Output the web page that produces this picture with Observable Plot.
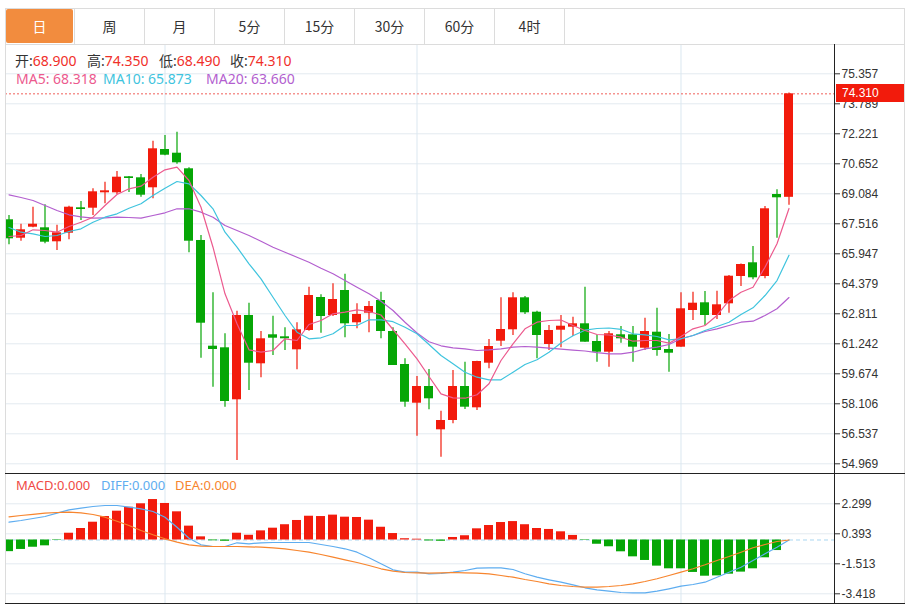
<!DOCTYPE html>
<html><head><meta charset="utf-8">
<script src="https://cdn.jsdelivr.net/npm/d3@7"></script>
<script src="https://cdn.jsdelivr.net/npm/@observablehq/plot@0.6"></script>
<style>
body{margin:0;background:#fff;}
#wrap{position:relative;width:910px;height:606px;overflow:hidden;font-family:"Noto Sans CJK SC","Noto Sans",sans-serif;}
.abs{position:absolute;}
.tab{position:absolute;top:8px;height:36px;width:70px;box-sizing:border-box;border-right:1px solid #dcdcdc;display:flex;align-items:center;justify-content:center;font-size:14px;color:#333;}
.tab.on span{position:absolute;left:1px;top:1px;right:1px;bottom:1px;background:#f28c3e;border-radius:2px;}
.tab.on b{position:relative;color:#fff;font-weight:normal;}
.hd{position:absolute;font-family:"Noto Sans","Noto Sans CJK SC",sans-serif;font-size:14px;white-space:nowrap;line-height:18px;}
svg{position:absolute;left:0;overflow:visible;}
</style></head><body><div id="wrap"></div>
<script>
// ---- data ----
const tabs = ["日","周","月","5分","15分","30分","60分","4时"];
const opens  = [67.725,66.763,67.338,67.306,66.575,67.024,68.352,68.331,69.136,69.136,69.972,69.920,69.398,71.400,71.206,70.391,66.643,61.117,61.033,58.315,62.722,60.197,61.713,61.608,60.928,61.938,63.663,62.722,64.029,62.340,62.842,63.506,61.885,60.160,58.137,59.010,56.746,57.233,59.010,57.896,60.228,61.378,61.974,63.647,62.894,61.206,61.953,62.110,62.288,61.363,60.803,61.713,61.713,61.012,61.849,60.944,61.065,62.983,63.386,62.722,63.333,64.761,65.477,64.761,69.047,68.900];
const highs  = [67.949,67.495,68.383,68.509,67.442,68.436,68.681,69.345,69.690,70.250,69.990,70.093,71.834,72.132,72.304,70.443,66.904,63.908,61.765,62.946,63.365,61.885,62.685,62.079,62.340,64.201,63.804,64.379,64.881,63.333,63.454,63.940,62.079,60.458,59.533,59.899,57.719,59.847,60.280,60.330,61.467,63.647,63.908,63.715,62.946,62.199,62.722,62.633,64.201,61.676,61.885,62.147,62.147,62.581,63.103,61.728,63.908,63.940,63.976,63.992,64.813,65.420,66.329,68.420,69.293,74.350];
const lows   = [66.418,66.606,67.306,66.470,66.120,66.679,67.688,67.949,68.561,69.047,69.152,68.906,68.822,71.070,70.631,65.999,60.489,58.973,57.928,55.142,58.801,59.465,60.631,60.892,59.883,61.901,61.796,62.669,61.556,62.027,61.817,61.504,60.108,57.928,56.412,57.792,55.314,57.060,57.808,57.756,59.935,61.101,61.676,62.774,60.458,60.892,61.033,61.624,61.326,60.280,60.019,61.274,60.280,60.892,60.594,59.758,61.065,62.460,62.199,62.513,62.842,64.238,64.588,64.640,66.763,68.490];
const closes = [66.731,67.202,67.495,66.554,67.045,68.383,68.263,69.188,69.240,69.952,69.884,69.011,71.436,71.102,70.704,66.606,62.319,60.944,58.226,62.722,60.228,61.504,61.535,61.504,61.974,63.767,62.669,63.558,62.288,62.774,63.192,61.885,60.108,58.189,59.010,58.367,57.233,59.010,57.928,60.317,61.101,61.990,63.647,62.863,61.676,61.938,62.162,62.288,61.326,60.803,61.765,61.504,61.065,61.885,60.892,60.751,63.072,63.365,62.722,63.281,64.776,65.388,64.693,68.300,68.875,74.310];
const ma5  = [66.852,66.904,67.202,67.165,67.076,67.374,67.599,67.861,68.472,69.047,69.345,69.481,69.952,70.339,70.474,69.779,68.383,66.292,63.856,62.288,60.929,60.803,60.892,61.504,61.415,62.251,62.460,62.811,62.894,63.020,62.931,62.748,61.990,61.242,60.458,59.533,58.628,58.419,58.398,58.580,59.151,60.369,61.242,62.026,62.371,62.460,62.487,62.199,61.938,61.728,61.702,61.587,61.378,61.415,61.415,61.274,61.624,62.026,62.199,62.722,63.506,63.940,64.201,65.247,66.470,68.318];
const ma10 = [67.322,67.076,66.993,66.852,66.904,67.113,67.254,67.599,67.861,68.038,68.331,68.561,68.995,69.377,69.727,69.607,68.995,68.300,67.076,66.292,65.424,64.640,63.678,62.722,61.849,61.504,61.556,61.765,62.199,62.199,62.497,62.497,62.398,62.110,61.765,61.206,60.631,60.197,59.758,59.496,59.360,59.360,59.758,60.160,60.406,60.803,61.284,61.661,61.953,62.042,62.068,62.000,61.765,61.713,61.624,61.451,61.504,61.676,61.938,62.147,62.371,62.774,63.124,63.767,64.551,65.873];
const ma20 = [69.032,68.890,68.734,68.472,68.211,67.986,67.881,67.808,67.829,67.861,67.845,67.808,67.949,68.091,68.300,68.300,68.122,67.861,67.427,67.165,66.904,66.606,66.292,66.031,65.769,65.508,65.194,64.902,64.551,64.201,63.856,63.464,62.983,62.371,61.807,61.347,61.138,61.033,60.981,60.892,60.929,60.981,61.065,61.101,61.065,61.012,60.960,60.908,60.866,60.777,60.720,60.720,60.803,60.981,61.065,61.206,61.504,61.676,61.885,62.026,62.199,62.371,62.424,62.722,63.072,63.660];
const macd = [-0.74,-0.60,-0.46,-0.37,-0.03,0.43,0.73,1.13,1.49,1.83,2.08,2.30,2.57,2.32,1.79,0.88,0.20,-0.05,-0.08,0.43,0.30,0.58,0.75,0.97,1.24,1.51,1.49,1.58,1.45,1.43,1.26,0.81,0.41,0.08,0.05,-0.06,-0.08,0.16,0.27,0.71,0.92,1.11,1.17,0.97,0.73,0.67,0.52,0.29,-0.03,-0.27,-0.43,-0.75,-1.07,-1.30,-1.66,-1.83,-1.83,-2.06,-2.30,-2.28,-2.17,-2.04,-1.83,-1.13,-0.67,0];
const diff = [1.131,1.239,1.366,1.493,1.702,1.918,2.020,2.128,2.191,2.191,2.083,1.982,1.810,1.448,0.813,0.114,-0.305,-0.413,-0.413,-0.178,-0.241,-0.178,-0.159,-0.159,-0.159,-0.159,-0.286,-0.413,-0.559,-0.775,-1.131,-1.512,-1.893,-2.045,-2.045,-2.147,-2.128,-2.045,-1.937,-1.791,-1.766,-1.766,-1.874,-2.147,-2.363,-2.528,-2.680,-2.846,-3.036,-3.163,-3.252,-3.335,-3.354,-3.354,-3.252,-3.100,-2.934,-2.827,-2.680,-2.363,-2.045,-1.728,-1.302,-0.877,-0.457,0];
const dea  = [1.474,1.556,1.632,1.702,1.747,1.766,1.728,1.620,1.448,1.194,0.921,0.603,0.330,0.076,-0.140,-0.305,-0.394,-0.413,-0.413,-0.413,-0.432,-0.457,-0.495,-0.559,-0.667,-0.775,-0.921,-1.092,-1.258,-1.429,-1.620,-1.829,-1.982,-2.064,-2.083,-2.109,-2.083,-2.064,-2.083,-2.109,-2.147,-2.255,-2.363,-2.509,-2.636,-2.782,-2.890,-2.954,-2.998,-2.998,-2.954,-2.890,-2.782,-2.636,-2.464,-2.255,-2.045,-1.829,-1.575,-1.302,-1.048,-0.775,-0.495,-0.286,-0.095,0];
const priceTicks = [75.357,73.789,72.221,70.652,69.084,67.516,65.947,64.379,62.811,61.242,59.674,58.106,56.537,54.969];
const macdTicks = [2.299,0.393,-1.513,-3.418];
const periodStarts = [13,34,56];

// ---- styles ----
const RED="#f21b0c", GREEN="#06a606";
const C_MA5="#ec5a8e", C_MA10="#3fc4de", C_MA20="#b35fcf";
const C_DIFF="#5eadf0", C_DEA="#f7852e";
const GRID="#e3eaf0", VGRID="#dbe7f0";
const wrap=document.getElementById("wrap");
const candles=opens.map((o,i)=>({i,o,h:highs[i],l:lows[i],c:closes[i],col:closes[i]>=o?RED:GREEN}));
const xDom=[-0.2917,68.7917];
const common={width:910,marginLeft:5,marginRight:76,marginTop:0,marginBottom:0,
  style:{fontFamily:"'Liberation Sans',Arial,sans-serif",fontSize:"12px",color:"#333",background:"transparent",overflow:"visible"}};

// ---- price panel ----
const price=Plot.plot({...common,height:429,
  x:{domain:xDom,axis:null},
  y:{domain:[54.462,76.889],axis:null,label:null},
  marks:[
    Plot.ruleY(priceTicks,{stroke:GRID,strokeWidth:1}),
    Plot.ruleX(periodStarts,{stroke:VGRID}),
    Plot.ruleY([closes[closes.length-1]],{stroke:"#f0605a",strokeDasharray:"2,2"}),
    Plot.ruleX(candles,{x:"i",y1:"l",y2:"h",stroke:"col",strokeWidth:1.2,clip:true}),
    Plot.rect(candles,{x1:d=>d.i-0.375,x2:d=>d.i+0.375,y1:"o",y2:"c",fill:"col",clip:true}),
    Plot.line(ma20.map((v,i)=>[i,v]),{stroke:C_MA20,strokeWidth:1.2,clip:true}),
    Plot.line(ma10.map((v,i)=>[i,v]),{stroke:C_MA10,strokeWidth:1.2,clip:true}),
    Plot.line(ma5.map((v,i)=>[i,v]),{stroke:C_MA5,strokeWidth:1.2,clip:true}),
    Plot.axisY(priceTicks,{anchor:"right",label:null,tickSize:5,tickPadding:2,tickFormat:d=>d.toFixed(3),stroke:"#333"})
  ]});
price.style.top="44px";
wrap.appendChild(price);

// ---- MACD panel ----
const bars=macd.map((v,i)=>({i,v,col:v>=0?RED:GREEN}));
const macdPlot=Plot.plot({...common,height:130,
  x:{domain:xDom,axis:null},
  y:{domain:[-4.034,4.224],axis:null,label:null},
  marks:[
    Plot.ruleY(macdTicks,{stroke:GRID}),
    Plot.ruleX(periodStarts,{stroke:VGRID}),
    Plot.ruleY([0],{stroke:"#a9d6f0",strokeDasharray:"4,3"}),
    Plot.rect(bars,{x1:d=>d.i-0.375,x2:d=>d.i+0.375,y1:0,y2:"v",fill:"col",clip:true}),
    Plot.line(diff.map((v,i)=>[i,v]),{stroke:C_DIFF,strokeWidth:1.2,clip:true}),
    Plot.line(dea.map((v,i)=>[i,v]),{stroke:C_DEA,strokeWidth:1.2,clip:true}),
    Plot.axisY(macdTicks,{anchor:"right",label:null,tickSize:5,tickPadding:2,tickFormat:d=>d.toFixed(3),stroke:"#333"})
  ]});
macdPlot.style.top="473px";
wrap.appendChild(macdPlot);

// ---- frame lines ----
function line(l,t,w,h,c){const d=document.createElement("div");d.className="abs";Object.assign(d.style,{left:l+"px",top:t+"px",width:w+"px",height:h+"px",background:c});wrap.appendChild(d);}
line(5,8,900,1,"#dcdcdc");     // top of tab bar
line(5,44,900,1,"#dcdcdc");    // below tabs
line(5,8,1,596,"#dcdcdc");     // left border
line(904,8,1,596,"#dcdcdc");   // right border
line(5,473,900,1,"#222");      // separator
line(5,603,900,1,"#222");      // bottom
line(834,44,1,560,"#222");     // axis line

// ---- tabs ----
tabs.forEach((t,k)=>{const d=document.createElement("div");d.className="tab"+(k===0?" on":"");d.style.left=(5+70*k)+"px";
  d.innerHTML=k===0?`<span></span><b>${t}</b>`:t;wrap.appendChild(d);});

// ---- header texts ----
function hd(x,y,parts){const d=document.createElement("div");d.className="hd";d.style.left=x+"px";d.style.top=y+"px";
  d.innerHTML=parts.map(([s,c])=>`<span style="color:${c}">${s}</span>`).join("");wrap.appendChild(d);return d;}
const n=closes.length-1, VAL="#f0302a", LAB="#333";
hd(15,52,[["开:",LAB],[opens[n].toFixed(3),VAL]]);
hd(87,52,[["高:",LAB],[highs[n].toFixed(3),VAL]]);
hd(159,52,[["低:",LAB],[lows[n].toFixed(3),VAL]]);
hd(230,52,[["收:",LAB],[closes[n].toFixed(3),VAL]]);
hd(16,70,[["MA5: "+ma5[n].toFixed(3),C_MA5]]);
hd(103,70,[["MA10: "+ma10[n].toFixed(3),C_MA10]]);
hd(206,70,[["MA20: "+ma20[n].toFixed(3),C_MA20]]);
const mh=[["MACD:"+macd[n].toFixed(3),"#f04a45",16],["DIFF:"+diff[n].toFixed(3),C_DIFF,101],["DEA:"+dea[n].toFixed(3),C_DEA,175]];
mh.forEach(([s,c,x])=>{const d=hd(x,476,[[s,c]]);d.style.fontSize="13px";});

// ---- last price label ----
const yp=price.scale("y").apply(closes[n]);
const lb=document.createElement("div");lb.className="abs";
Object.assign(lb.style,{left:"836px",top:(44+yp-9)+"px",width:"68px",height:"18px",background:"#f21b0c",color:"#fff",
  fontFamily:"'Liberation Sans',Arial,sans-serif",fontSize:"12px",lineHeight:"18px",paddingLeft:"6px",boxSizing:"border-box"});
lb.textContent=closes[n].toFixed(3);wrap.appendChild(lb);
</script></body></html>
